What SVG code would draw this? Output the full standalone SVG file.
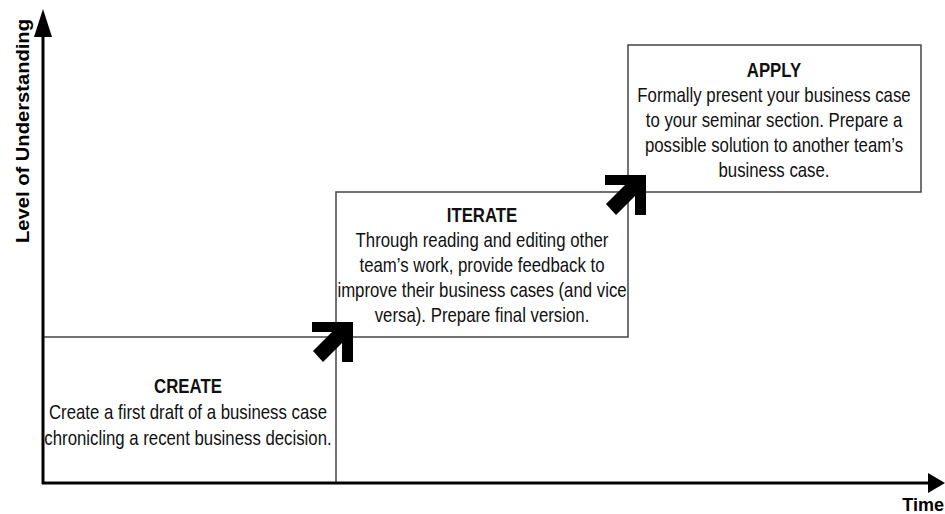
<svg xmlns="http://www.w3.org/2000/svg" width="945" height="514" viewBox="0 0 945 514">
<style>
.box{fill:#fff;stroke:#444;stroke-width:1.5}
.t{font-family:"Liberation Sans",Arial,sans-serif;font-size:20px;fill:#111;text-anchor:middle}
.h{font-weight:bold}
.ax{font-family:"Liberation Sans",Arial,sans-serif;font-weight:bold;fill:#000}
.arr{fill:#000}
</style>
<defs>
<polygon id="step" points="-24,-15 17,-15 17,25 6,25 6,6 -13,25 -23,14 -4,-5 -24,-5"/>
</defs>
<g id="create">
<rect class="box" x="43" y="337" width="293" height="146"/>
<g transform="translate(188,0) scale(0.84,1)">
<text class="t h" x="0" y="393">CREATE</text>
<text class="t" x="0" y="419">Create a first draft of a business case</text>
<text class="t" x="0" y="445">chronicling a recent business decision.</text>
</g>
</g>
<g id="iterate">
<rect class="box" x="336" y="192" width="292" height="145"/>
<g transform="translate(482,0) scale(0.84,1)">
<text class="t h" x="0" y="222">ITERATE</text>
<text class="t" x="0" y="247">Through reading and editing other</text>
<text class="t" x="0" y="272">team’s work, provide feedback to</text>
<text class="t" x="0" y="297">improve their business cases (and vice</text>
<text class="t" x="0" y="322">versa). Prepare final version.</text>
</g>
</g>
<g id="apply">
<rect class="box" x="628" y="45" width="293" height="147"/>
<g transform="translate(774,0) scale(0.84,1)">
<text class="t h" x="0" y="77">APPLY</text>
<text class="t" x="0" y="102">Formally present your business case</text>
<text class="t" x="0" y="127">to your seminar section. Prepare a</text>
<text class="t" x="0" y="152">possible solution to another team’s</text>
<text class="t" x="0" y="177">business case.</text>
</g>
</g>
<g id="connectors">
<use href="#step" class="arr" x="336" y="337"/>
<use href="#step" class="arr" x="629" y="190"/>
</g>
<g id="axes">
<line x1="43" y1="35" x2="43" y2="484" stroke="#000" stroke-width="3"/>
<polygon points="43,9 34,37 52,37" fill="#000"/>
<line x1="42" y1="483" x2="930" y2="483" stroke="#000" stroke-width="3"/>
<polygon points="945,483 928,473 928,493" fill="#000"/>
<text class="ax" font-size="18" textLength="224" lengthAdjust="spacingAndGlyphs" transform="translate(29,243) rotate(-90)">Level of Understanding</text>
<text class="ax" font-size="18" x="944" y="511" text-anchor="end">Time</text>
</g>
</svg>
